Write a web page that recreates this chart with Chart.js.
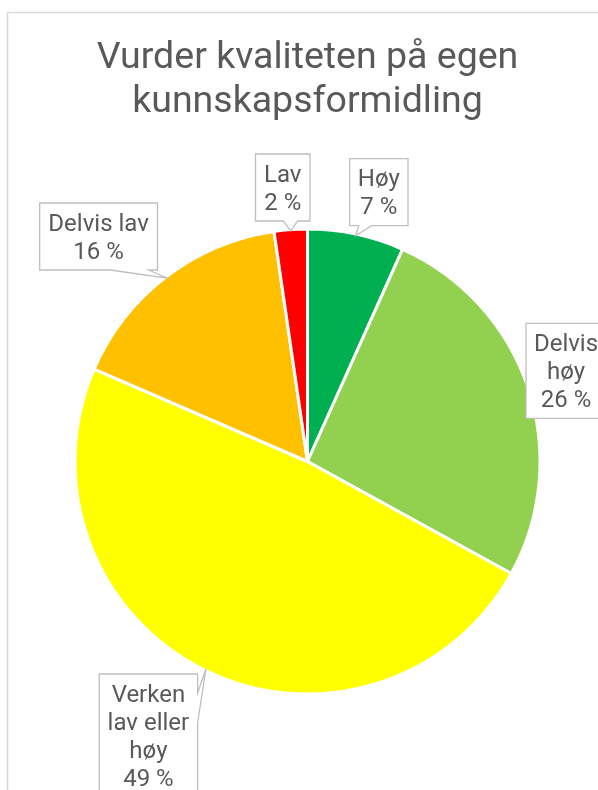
<!DOCTYPE html>
<html>
<head>
<meta charset="utf-8">
<script src="https://cdn.jsdelivr.net/npm/chart.js@4/dist/chart.umd.min.js"></script>
<style>
  html, body { margin: 0; padding: 0; background: #fff; overflow: hidden; }
  #wrap { position: relative; width: 598px; height: 790px; }
</style>
</head>
<body>
<div id="wrap"><canvas id="pie" width="598" height="790"></canvas></div>
<script>
const categories = ['Høy', 'Delvis høy', 'Verken lav eller høy', 'Delvis lav', 'Lav'];
const shares = [6.7, 26.3, 48.5, 16.2, 2.3];
const sliceColors = ['#00B050', '#92D050', '#FFFF00', '#FFC000', '#FF0000'];
const titleLines = ['Vurder kvaliteten på egen', 'kunnskapsformidling'];

// callout boxes (layout only), one per slice, wedge base as [side, from, to]
const calloutBoxes = [
    { x: 349.7, y: 158.7, w: 58.3, wrap: 60, base: ['bottom', 9, 22] },
    { x: 526, y: 323.3, w: 80, wrap: 70, base: null },
    { x: 99.2, y: 674, w: 98.4, wrap: 85, base: ['right', 19, 49] },
    { x: 39.7, y: 203, w: 117.8, wrap: 110, base: ['bottom', 71, 109] },
    { x: 255.5, y: 154, w: 54.5, wrap: 60, base: ['bottom', 28, 42] }
];

const textColor = '#595959';

function wrapWords(ctx, text, maxWidth) {
    const words = text.split(' ');
    const lines = [];
    let line = '';
    words.forEach(w => {
        const test = line ? line + ' ' + w : w;
        if (line && ctx.measureText(test).width > maxWidth) {
            lines.push(line);
            line = w;
        } else {
            line = test;
        }
    });
    if (line) lines.push(line);
    return lines;
}

const frameAndTitle = {
    id: 'frameAndTitle',
    beforeDraw(chart) {
        const ctx = chart.ctx;
        ctx.save();
        ctx.strokeStyle = '#D9D9D9';
        ctx.lineWidth = 1.5;
        ctx.beginPath();
        ctx.moveTo(7.5, 800);
        ctx.lineTo(7.5, 12.5);
        ctx.lineTo(610, 12.5);
        ctx.stroke();

        ctx.fillStyle = textColor;
        ctx.font = '37.5px Roboto';
        ctx.textAlign = 'center';
        ctx.textBaseline = 'alphabetic';
        const cx = chart.chartArea.left + chart.chartArea.width / 2;
        ctx.fillText(titleLines[0], cx, 68.3);
        ctx.fillText(titleLines[1], cx, 111.7);
        ctx.restore();
    }
};

const calloutLabels = {
    id: 'calloutLabels',
    afterDatasetsDraw(chart) {
        const ctx = chart.ctx;
        const arcs = chart.getDatasetMeta(0).data;
        ctx.save();
        ctx.font = '24px Roboto';
        arcs.forEach((arc, i) => {
            const box = calloutBoxes[i];
            const p = arc.getProps(['x', 'y', 'startAngle', 'endAngle', 'outerRadius'], true);
            const mid = (p.startAngle + p.endAngle) / 2;
            const tipX = p.x + Math.cos(mid) * (p.outerRadius - 1.5);
            const tipY = p.y + Math.sin(mid) * (p.outerRadius - 1.5);

            const lines = wrapWords(ctx, categories[i], box.wrap);
            lines.push(Math.round(shares[i]) + ' %');
            const h = lines.length * 28 + 11;
            const { x, y, w } = box;

            ctx.beginPath();
            ctx.moveTo(x, y);
            if (box.base && box.base[0] === 'right') {
                ctx.lineTo(x + w, y);
                ctx.lineTo(x + w, y + box.base[1]);
                ctx.lineTo(tipX, tipY);
                ctx.lineTo(x + w, y + box.base[2]);
                ctx.lineTo(x + w, y + h);
                ctx.lineTo(x, y + h);
            } else if (box.base && box.base[0] === 'bottom') {
                ctx.lineTo(x + w, y);
                ctx.lineTo(x + w, y + h);
                ctx.lineTo(x + box.base[2], y + h);
                ctx.lineTo(tipX, tipY);
                ctx.lineTo(x + box.base[1], y + h);
                ctx.lineTo(x, y + h);
            } else {
                ctx.lineTo(x + w, y);
                ctx.lineTo(x + w, y + h);
                ctx.lineTo(x, y + h);
            }
            ctx.closePath();
            ctx.fillStyle = '#FFFFFF';
            ctx.fill();
            ctx.strokeStyle = '#BFBFBF';
            ctx.lineWidth = 1.3;
            ctx.stroke();

            ctx.fillStyle = textColor;
            ctx.textAlign = 'center';
            ctx.textBaseline = 'alphabetic';
            lines.forEach((t, j) => {
                ctx.fillText(t, x + w / 2, y + 27.5 + j * 28);
            });
        });
        ctx.restore();
    }
};

new Chart(document.getElementById('pie').getContext('2d'), {
    type: 'pie',
    data: {
        labels: categories,
        datasets: [{
            data: shares,
            backgroundColor: sliceColors,
            borderColor: '#FFFFFF',
            borderWidth: 3,
            radius: 232.5
        }]
    },
    options: {
        responsive: false,
        animation: false,
        devicePixelRatio: 1,
        layout: {
            padding: { left: 17, right: 0, top: 133, bottom: 0 }
        },
        plugins: {
            legend: { display: false },
            title: { display: false },
            tooltip: { enabled: false }
        }
    },
    plugins: [frameAndTitle, calloutLabels]
});
</script>
</body>
</html>
